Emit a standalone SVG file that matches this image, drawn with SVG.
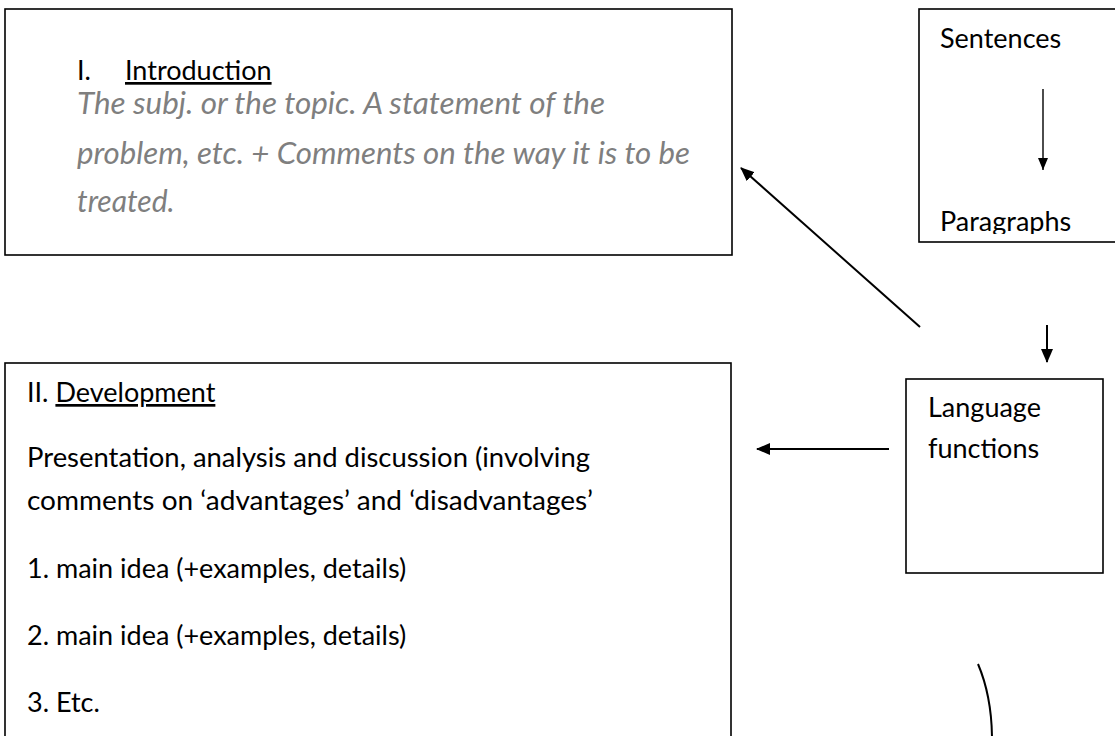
<svg xmlns="http://www.w3.org/2000/svg" width="1115" height="736" viewBox="0 0 1115 736">
<style>
  .box { fill: #fff; stroke: #000; stroke-width: 1.6; }
  .t { font-family: Lato, "Liberation Sans", sans-serif; font-size: 27px; fill: #000; }
  .gi { font-family: Lato, "Liberation Sans", sans-serif; font-size: 30px; font-style: italic; fill: #7f7f7f; }
  .ln { stroke: #000; stroke-width: 2; fill: none; }
  .ln1 { stroke: #000; stroke-width: 1.4; fill: none; }
</style>
<defs>
  <marker id="ah" markerUnits="userSpaceOnUse" markerWidth="14" markerHeight="12" refX="13" refY="6" orient="auto">
    <path d="M0,0 L14,6 L0,12 Z" fill="#000"/>
  </marker>
  <marker id="ahs" markerUnits="userSpaceOnUse" markerWidth="12" markerHeight="10" refX="12" refY="5" orient="auto">
    <path d="M0,0 L12,5 L0,10 Z" fill="#000"/>
  </marker>
  <clipPath id="clipS"><rect x="919" y="9" width="200" height="225"/></clipPath>
</defs>

<g id="intro">
  <rect class="box" x="5" y="9" width="727" height="246"/>
  <text class="t" x="77" y="80">I.</text>
  <text class="t" x="125" y="80" text-decoration="underline">Introduction</text>
  <text class="gi" x="77" y="114" textLength="528" lengthAdjust="spacingAndGlyphs">The subj. or the topic. A statement of the</text>
  <text class="gi" x="77" y="164" textLength="613" lengthAdjust="spacingAndGlyphs">problem, etc. + Comments on the way it is to be</text>
  <text class="gi" x="77" y="212">treated.</text>
</g>

<g id="sentences">
  <rect class="box" x="919" y="9" width="210" height="233"/>
  <text class="t" x="940" y="48">Sentences</text>
  <line class="ln1" x1="1043" y1="89" x2="1043" y2="170" marker-end="url(#ahs)"/>
  <text class="t" x="940" y="231" clip-path="url(#clipS)">Paragraphs</text>
</g>

<g id="development">
  <rect class="box" x="5" y="363" width="726" height="400"/>
  <text class="t" x="27" y="402">II. <tspan text-decoration="underline">Development</tspan></text>
  <text class="t" x="27" y="467" textLength="563" lengthAdjust="spacingAndGlyphs">Presentation, analysis and discussion (involving</text>
  <text class="t" x="27" y="510" textLength="566" lengthAdjust="spacingAndGlyphs">comments on ‘advantages’ and ‘disadvantages’</text>
  <text class="t" x="27" y="578">1. main idea (+examples, details)</text>
  <text class="t" x="27" y="645">2. main idea (+examples, details)</text>
  <text class="t" x="27" y="712">3. Etc.</text>
</g>

<g id="language">
  <rect class="box" x="906" y="379" width="197" height="194"/>
  <text class="t" x="928" y="417">Language</text>
  <text class="t" x="928" y="458">functions</text>
</g>

<g id="connectors">
  <line class="ln" x1="920" y1="327" x2="741" y2="168" marker-end="url(#ah)"/>
  <line class="ln" x1="1047" y1="325" x2="1047" y2="362" marker-end="url(#ah)"/>
  <line class="ln" x1="889" y1="449" x2="757" y2="449" marker-end="url(#ah)"/>
  <path class="ln" d="M978,664 Q992,697 992,740"/>
</g>
</svg>
